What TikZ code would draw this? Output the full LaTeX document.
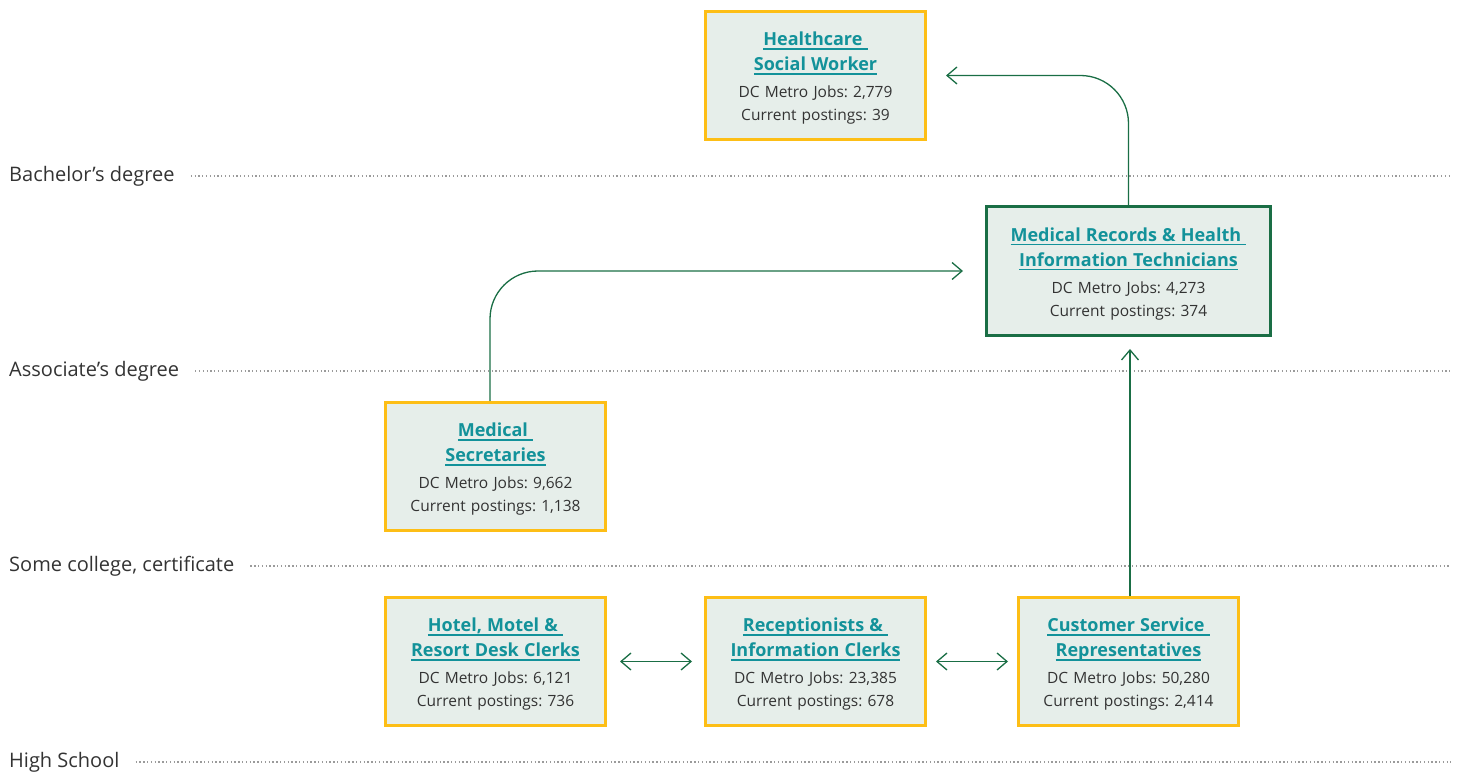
\documentclass[tikz,border=0pt]{standalone}
\usepackage{fontspec}
\setmainfont{Open Sans}
\usetikzlibrary{arrows.meta}
\usetikzlibrary{positioning}

\definecolor{boxfill}{HTML}{E6EEEA}
\definecolor{boxgold}{HTML}{FDBE16}
\definecolor{darkgreen}{HTML}{1A6E45}
\definecolor{titleteal}{HTML}{13929A}
\definecolor{bodytext}{HTML}{333333}
\definecolor{dotgray}{HTML}{9B9B9B}
\frenchspacing

\newcommand{\jobul}[1]{\setbox0=\hbox{#1}\leavevmode\rlap{\rule[-4pt]{\wd0}{1.4pt}}\box0}
\newcommand{\jobtitlefont}{\fontsize{18}{25}\selectfont\bfseries\color{titleteal}}
\newcommand{\jobtitle}[2]{{\jobtitlefont\rule{0pt}{19pt}\jobul{#1}\\[2pt]\jobul{#2}}\\[4pt]}

\tikzset{
	jobbox/.style={draw=boxgold, line width=2.6pt, fill=boxfill, minimum width=220.4pt, minimum height=128.4pt, text width=220pt, align=center, text=bodytext, font=\fontsize{15.5}{23}\selectfont, inner sep=0pt},
	keybox/.style={jobbox, draw=darkgreen, minimum width=284.4pt, minimum height=129.4pt, text width=284pt},
	link/.style={darkgreen, line width=1.3pt, -{Straight Barb[length=10pt,width=17pt]}, rounded corners=48pt},
	pair/.style={darkgreen, line width=1.3pt, {Straight Barb[length=10pt,width=17pt]}-{Straight Barb[length=10pt,width=17pt]}},
	levellabel/.style={anchor=west, font=\fontsize{20}{20}\selectfont, text=bodytext, inner sep=0pt},
	levelline/.style={dotgray, line width=1.3pt, dash pattern=on 1.3pt off 2.5pt},
}

\begin{document}
\begin{tikzpicture}[x=1pt,y=-1pt]
	\useasboundingbox (0,0) rectangle (1462,775);

	\node[levellabel] (bach) at (9,176) {Bachelor’s degree};
	\node[levellabel] (assoc) at (9,371) {Associate’s degree};
	\node[levellabel] (somecol) at (9,566) {Some college, certificate};
	\node[levellabel] (hschool) at (9,762) {High School};
	\coordinate (bachend) at (1451,176);
	\coordinate (assocend) at (1451,371);
	\coordinate (somecolend) at (1451,566);
	\coordinate (hschoolend) at (1451,762);
	\draw[levelline] ([xshift=16pt]bach.east |- bachend) -- (bachend);
	\draw[levelline] ([xshift=16pt]assoc.east |- assocend) -- (assocend);
	\draw[levelline] ([xshift=16pt]somecol.east |- somecolend) -- (somecolend);
	\draw[levelline] ([xshift=16pt]hschool.east |- hschoolend) -- (hschoolend);

	\node[jobbox] (hsw) at (815.5,75.5) {\jobtitle{Healthcare\ }{Social Worker}DC Metro Jobs: 2,779\\Current postings: 39};
	\node[keybox] (mrhit) at (1128.5,271) {\jobtitle{Medical Records \& Health\ }{Information Technicians}DC Metro Jobs: 4,273\\Current postings: 374};
	\node[jobbox] (medsec) at (495.5,466.5) {\jobtitle{Medical\ }{Secretaries}DC Metro Jobs: 9,662\\Current postings: 1,138};
	\node[jobbox] (hotel) at (495.5,661.5) {\jobtitle{Hotel, Motel \&\ }{Resort Desk Clerks}DC Metro Jobs: 6,121\\Current postings: 736};
	\node[jobbox] (recep) at (815.5,661.5) {\jobtitle{Receptionists \&\ }{Information Clerks}DC Metro Jobs: 23,385\\Current postings: 678};
	\node[jobbox] (csr) at (1128.5,661.5) {\jobtitle{Customer Service\ }{Representatives}DC Metro Jobs: 50,280\\Current postings: 2,414};

	\draw[link, shorten >=19pt] (mrhit.north) |- (hsw.east);
	\draw[link, shorten >=22pt] ([xshift=-5.5pt]medsec.north) |- (mrhit.west);
	\draw[link, shorten >=12pt] ([xshift=1.5pt]csr.north) -- ([xshift=1.5pt]csr.north |- mrhit.south);
	\draw[pair, shorten <=13pt, shorten >=12pt] (hotel) -- (recep);
	\draw[pair, shorten <=9pt, shorten >=9pt] (recep) -- (csr);
\end{tikzpicture}
\end{document}
